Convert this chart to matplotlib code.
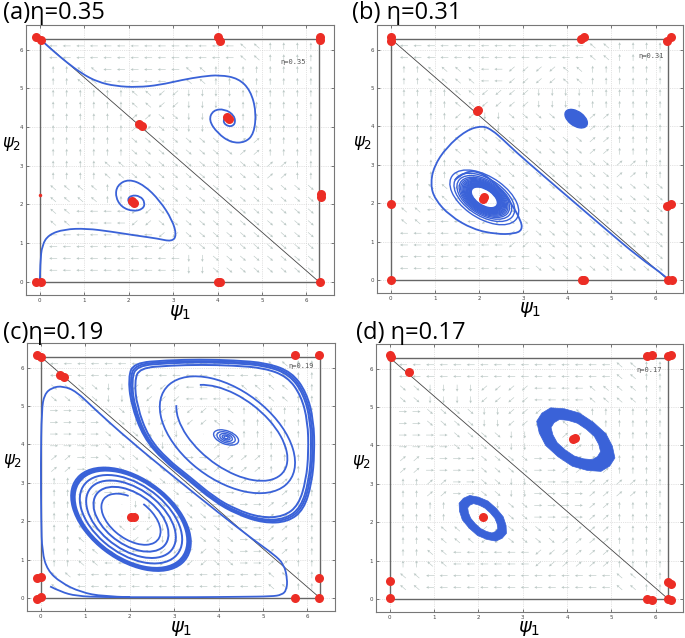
"""Phase portraits of the three-oscillator model for four coupling values (eta)."""
import numpy as np
import matplotlib
matplotlib.use("Agg")
import matplotlib.pyplot as plt
from matplotlib.path import Path
from matplotlib.patches import PathPatch, Ellipse, Arc

TWO_PI = 2 * np.pi

TITLES = ["(a)η=0.35", "(b) η=0.31", "(c)η=0.19", "(d) η=0.17"]
ETA_TAGS = ["η=0.35", "η=0.31", "η=0.19", "η=0.17"]
TAG_XY = [(5.41, 5.69), (5.62, 5.82), (5.57, 6.03), (5.57, 5.96)]

# --- quiver field, read as direction codes (numpad: 8 up, 4 left, 3 down-right, 5 ~0)
# rows run top (psi2 ~ 6) to bottom (psi2 ~ 0.3), columns psi1 ~ 0.3 .. 6
FIELD_A = ["4444444788", "8744478888", "8887122888", "8889325888", "8883333988",
           "8873333398", "7785333333", "7441333333", "4444133333", "4444423333"]
FIELD_B = ["4444444788", "8774117888", "8871122888", "8812335988", "8873333988",
           "8873333398", "8715333333", "7441333333", "4444133333", "4444433333"]
FIELD_C = ["4444444478", "3321144778", "6632117888", "6633259888", "9633369988",
           "8963366998", "8852336698", "8771233698", "8744113698", "7444444478"]
FIELD_D = ["4444444478", "3221144778", "6332117888", "6633259888", "9663369988",
           "8963266998", "8852366988", "8771339988", "8744419988", "7444444478"]

# --- fixed points (red)
DOTS_A = [(-0.08, 6.34), (0.02, 6.25), (4.02, 6.32), (4.06, 6.23), (6.3, 6.34), (6.3, 6.25),
          (2.24, 4.08), (2.29, 4.03), (4.21, 4.25), (4.25, 4.2), (2.07, 2.09), (2.12, 2.03),
          (6.32, 2.28), (6.32, 2.2), (-0.08, 0.0), (0.02, 0.0), (4.02, 0.0), (4.06, 0.0),
          (6.3, 0.0)]
DOTS_B = [(0.0, 6.32), (0.0, 6.23), (4.31, 6.27), (4.38, 6.33), (6.26, 6.23), (6.35, 6.33),
          (1.95, 4.39), (1.98, 4.43), (2.08, 2.12), (2.12, 2.16), (0.0, 1.97),
          (6.26, 1.93), (6.34, 1.97), (0.0, 0.0), (4.33, 0.0), (4.38, 0.0),
          (6.28, 0.0), (6.36, 0.0)]
DOTS_C = [(-0.09, 6.32), (0.0, 6.28), (5.72, 6.32), (6.27, 6.32), (0.44, 5.8), (0.53, 5.76),
          (2.03, 2.1), (2.09, 2.1), (-0.09, 0.52), (0.0, 0.55), (6.27, 0.52),
          (-0.09, -0.02), (0.0, 0.02), (5.72, 0.0), (6.27, 0.0)]
DOTS_D = [(0.0, 6.35), (0.02, 6.3), (0.43, 5.91), (5.81, 6.32), (5.91, 6.36), (6.27, 6.32),
          (6.36, 6.36), (4.13, 4.17), (4.19, 4.19), (2.1, 2.13), (0.0, 0.46), (0.0, 0.03),
          (5.81, 0.0), (5.91, -0.04), (6.27, 0.43), (6.36, 0.4), (6.27, 0.0), (6.36, -0.04)]
SMALL_DOTS_A = [(0.0, 2.24)]

# --- trajectories (waypoints)
TRAJ_A = [
    [(0.0, 0.02), (0.01, 0.5), (0.05, 0.95), (0.2, 1.22), (0.55, 1.36), (1.05, 1.38),
     (1.6, 1.3), (2.15, 1.2), (2.65, 1.12), (2.97, 1.04), (3.08, 1.2), (2.98, 1.6),
     (2.7, 2.1), (2.35, 2.5), (2.0, 2.66), (1.74, 2.5), (1.7, 2.2), (1.84, 1.93),
     (2.1, 1.82), (2.32, 1.88), (2.37, 2.05), (2.26, 2.22), (2.05, 2.24), (1.96, 2.1),
     (2.05, 1.98)],
    [(0.0, 6.28), (0.3, 5.97), (0.6, 5.68), (0.95, 5.38), (1.3, 5.17), (1.7, 5.06),
     (2.2, 5.03), (2.7, 5.09), (3.2, 5.22), (3.65, 5.31), (4.05, 5.35), (4.47, 5.26),
     (4.74, 4.95), (4.87, 4.4), (4.82, 3.83), (4.62, 3.6), (4.3, 3.6), (4.0, 3.84),
     (3.8, 4.18), (3.9, 4.44), (4.16, 4.47), (4.38, 4.3), (4.4, 4.07), (4.25, 4.0),
     (4.1, 4.15), (4.18, 4.27)],
]
TRAJ_B = [
    [(6.28, 0.0), (6.26, 0.07), (5.62, 0.59), (4.87, 1.32), (4.12, 2.06), (3.37, 2.8),
     (2.84, 3.33), (2.54, 3.66), (2.3, 3.9), (2.08, 4.02), (1.71, 3.9), (1.26, 3.45),
     (0.98, 2.96), (0.9, 2.49), (1.0, 2.1), (1.34, 1.67), (1.86, 1.32), (2.39, 1.19),
     (2.8, 1.2), (2.98, 1.3), (2.95, 1.55), (2.7, 2.05), (2.39, 2.5), (2.05, 2.8),
     (1.7, 2.85), (1.45, 2.6)],
]
TRAJ_C = [
    [(0.21, 0.3), (0.45, 0.16), (0.8, 0.05), (1.4, 0.02), (2.5, 0.02), (3.5, 0.02),
     (4.5, 0.03), (5.2, 0.04), (5.42, 0.08), (5.53, 0.2), (5.55, 0.5), (5.47, 0.88),
     (5.25, 1.13), (4.8, 1.5), (4.0, 2.22), (3.0, 3.15), (2.0, 4.1), (1.2, 4.93),
     (0.8, 5.38), (0.5, 5.52), (0.25, 5.48), (0.08, 5.3), (0.02, 4.9), (0.0, 3.5),
     (0.01, 2.0), (0.03, 1.2), (0.15, 0.72), (0.45, 0.4), (0.9, 0.15), (1.4, 0.04),
     (2.0, 0.02)],
]
TRAJ_D = []

# closed outer cycle of the big upper-right loop in (c) and its close copies
LOOP_C = [(2.09, 6.12), (2.84, 6.19), (3.59, 6.21), (4.34, 6.19), (5.09, 6.12), (5.65, 5.88),
          (5.98, 5.35), (6.14, 4.63), (6.16, 3.77), (6.1, 3.0), (5.92, 2.3), (5.56, 1.98),
          (5.01, 1.95), (4.41, 2.18), (3.89, 2.52), (3.29, 3.1), (2.76, 3.58), (2.31, 4.18),
          (2.03, 5.05), (1.97, 5.75)]
LOOP_C_CENTER = (4.1, 4.1)
LOOP_C_SCALES = [1.0, 0.982, 0.965, 0.935]

# elliptical loops: (cx, cy, angle, widths, heights)
ELL_B = (2.12, 2.15, -40,
         [1.84, 1.62, 1.46, 1.34, 1.26, 1.19, 1.13, 1.08, 1.03, 0.98, 0.94, 0.90, 0.86,
          0.82, 0.79, 0.76, 0.73, 0.70],
         [1.04, 0.92, 0.84, 0.78, 0.73, 0.69, 0.65, 0.62, 0.59, 0.56, 0.54, 0.52, 0.50,
          0.47, 0.45, 0.43, 0.41, 0.39])
ELL_C_LOW = (2.03, 2.05, -45, [3.24, 3.17, 3.11, 3.05, 2.78, 2.44, 2.04],
             [2.00, 1.96, 1.92, 1.88, 1.70, 1.48, 1.24])
ELL_C_UP = (4.2, 4.25, -45, [3.7], [2.2])
ELL_C_SMALL = (4.17, 4.18, -25, [0.6, 0.44, 0.3, 0.19, 0.1], [0.34, 0.26, 0.18, 0.11, 0.06])
# open innermost turns: (cx, cy, angle, width, height, theta1, theta2)
ARCS_C = [(2.03, 2.05, -45, 1.62, 0.96, 140, 100), (4.3, 4.3, -45, 3.1, 1.7, 195, 165)]
# blob in (b); rings in (d): (cx, cy, angle, outer w, outer h, inner w, inner h)
BLOB_B = (4.2, 4.2, -42, 0.6, 0.36)
RINGS_D = [(4.2, 4.15, -42, 2.06, 1.2, 1.32, 0.72), (2.1, 2.1, -50, 1.36, 0.8, 0.9, 0.44)]

BLUE = "#3a62d8"
RED = "#ec2d25"
ARROW = "#bcc9c6"

DIRS = {"8": (0, 1), "2": (0, -1), "4": (-1, 0), "6": (1, 0),
        "7": (-1, 1), "9": (1, 1), "1": (-1, -1), "3": (1, -1), "5": (0, 0)}


def smooth_path(pts, closed=False):
    """Quadratic B-spline through a control polygon (rendered by matplotlib)."""
    p = np.asarray(pts, float)
    if closed:
        p = np.vstack([p, p[:2]])
        mids = (p[:-1] + p[1:]) / 2
        verts, codes = [mids[0]], [Path.MOVETO]
        for k in range(1, len(p) - 1):
            verts += [p[k], mids[k]]
            codes += [Path.CURVE3, Path.CURVE3]
    else:
        mids = (p[:-1] + p[1:]) / 2
        verts, codes = [p[0]], [Path.MOVETO]
        for k in range(1, len(p) - 1):
            end = mids[k] if k < len(p) - 2 else p[-1]
            verts += [p[k], end]
            codes += [Path.CURVE3, Path.CURVE3]
    return Path(verts, codes)


def ellipse_poly(cx, cy, w, h, ang):
    e = Ellipse((cx, cy), w, h, angle=ang)
    return e.get_patch_transform().transform_path(e.get_path()).to_polygons()[0]


def ring_path(cx, cy, ang, wo, ho, wi, hi):
    outer = ellipse_poly(cx, cy, wo, ho, ang)
    inner = ellipse_poly(cx, cy, wi, hi, ang)[::-1]
    verts = np.vstack([outer, inner])
    codes = ([Path.MOVETO] + [Path.LINETO] * (len(outer) - 1)
             + [Path.MOVETO] + [Path.LINETO] * (len(inner) - 1))
    return Path(verts, codes)


def draw_field(ax, field):
    pos = np.linspace(0.3, 6.1, 20)
    X, Y = np.meshgrid(pos, pos)
    U = np.zeros_like(X)
    V = np.zeros_like(Y)
    for j in range(20):
        for i in range(20):
            dx, dy = DIRS[field[9 - j // 2][i // 2]]
            n = np.hypot(dx, dy)
            if n:
                U[j, i], V[j, i] = 0.18 * dx / n, 0.18 * dy / n
    ax.quiver(X, Y, U, V, angles="xy", scale_units="xy", scale=1, pivot="mid",
              color=ARROW, width=0.002, headwidth=4.5, headlength=4.5, headaxislength=4,
              zorder=1)


def setup(ax, tag, tag_xy):
    ax.set_xlim(-0.31, 6.62)
    ax.set_ylim(-0.34, 6.64)
    ax.set_xticks(range(7))
    ax.set_yticks(range(7))
    ax.tick_params(direction="in", length=2, width=0.5, labelsize=4, pad=2,
                   top=True, right=True, colors="#444")
    for s in ax.spines.values():
        s.set_color("#777")
        s.set_linewidth(0.8)
    ax.grid(True, linestyle=":", color="#c8c8c8", linewidth=0.5)
    ax.set_axisbelow(True)
    ax.plot([0, TWO_PI, TWO_PI, 0, 0], [0, 0, TWO_PI, TWO_PI, 0], color="#666", lw=1.0, zorder=2)
    ax.plot([0, TWO_PI], [TWO_PI, 0], color="#444", lw=0.6, zorder=2)
    ax.text(tag_xy[0], tag_xy[1], tag, fontsize=5, family="DejaVu Sans Mono", color="#555",
            va="center", zorder=3)
    ax.text(0.5, -0.028, r"$\psi_1$", transform=ax.transAxes, ha="center", va="top", fontsize=14)
    ax.text(-0.046, 0.56, r"$\psi_2$", transform=ax.transAxes, ha="center", va="center",
            fontsize=12)


def draw_dots(ax, dots, ms=6.5):
    xs, ys = zip(*dots)
    ax.plot(xs, ys, "o", color=RED, ms=ms, mec="none", zorder=6, clip_on=False)


def draw_ellipses(ax, spec, lw=1.3):
    cx, cy, ang, ws, hs = spec
    for w, h in zip(ws, hs):
        ax.add_patch(Ellipse((cx, cy), w, h, angle=ang, fill=False, ec=BLUE, lw=lw, zorder=4))


plt.rcParams["font.family"] = ["DejaVu Sans"]
plt.rcParams["mathtext.fontset"] = "dejavusans"

fig = plt.figure(figsize=(6.85, 6.38), dpi=100)
rects = [(0.038, 0.5376, 0.4496, 0.4232), (0.5504, 0.5408, 0.4467, 0.42),
         (0.0394, 0.0423, 0.4496, 0.4201), (0.5489, 0.0408, 0.4482, 0.42)]
axes = [fig.add_axes(r) for r in rects]
fields = [FIELD_A, FIELD_B, FIELD_C, FIELD_D]
dots = [DOTS_A, DOTS_B, DOTS_C, DOTS_D]
trajs = [TRAJ_A, TRAJ_B, TRAJ_C, TRAJ_D]

for ax, tag, txy, field, d, tr in zip(axes, ETA_TAGS, TAG_XY, fields, dots, trajs):
    setup(ax, tag, txy)
    draw_field(ax, field)
    for pts in tr:
        ax.add_patch(PathPatch(smooth_path(pts), fill=False, ec=BLUE, lw=1.3, zorder=4))
    draw_dots(ax, d)

draw_dots(axes[0], SMALL_DOTS_A, ms=2.5)

# (b) nested loops and the small blob
draw_ellipses(axes[1], ELL_B, lw=1.0)
cx, cy, ang, w, h = BLOB_B
axes[1].add_patch(Ellipse((cx, cy), w, h, angle=ang, color=BLUE, zorder=4))

# (c) loops
base = np.asarray(LOOP_C)
c0 = np.asarray(LOOP_C_CENTER)
for s in LOOP_C_SCALES:
    axes[2].add_patch(PathPatch(smooth_path(c0 + s * (base - c0), closed=True),
                                fill=False, ec=BLUE, lw=1.4, zorder=4))
draw_ellipses(axes[2], ELL_C_LOW, lw=1.4)
draw_ellipses(axes[2], ELL_C_UP, lw=1.3)
draw_ellipses(axes[2], ELL_C_SMALL, lw=1.0)
for cx, cy, ang, w, h, t1, t2 in ARCS_C:
    axes[2].add_patch(Arc((cx, cy), w, h, angle=ang, theta1=t1, theta2=t2, ec=BLUE,
                          lw=1.3, zorder=4))

# (d) thick bands of many overlapping turns
for spec in RINGS_D:
    axes[3].add_patch(PathPatch(ring_path(*spec), fc=BLUE, ec=BLUE, lw=0.5, zorder=4))

# panel titles
title_pos = [(3, 1), (352, 1), (3, 321), (356, 321)]
for (px, py), t in zip(title_pos, TITLES):
    fig.text(px / 685, 1 - py / 638, t, fontsize=17, family=["Open Sans", "DejaVu Sans"],
             va="top", ha="left")

fig.savefig("out.png", dpi=100)
